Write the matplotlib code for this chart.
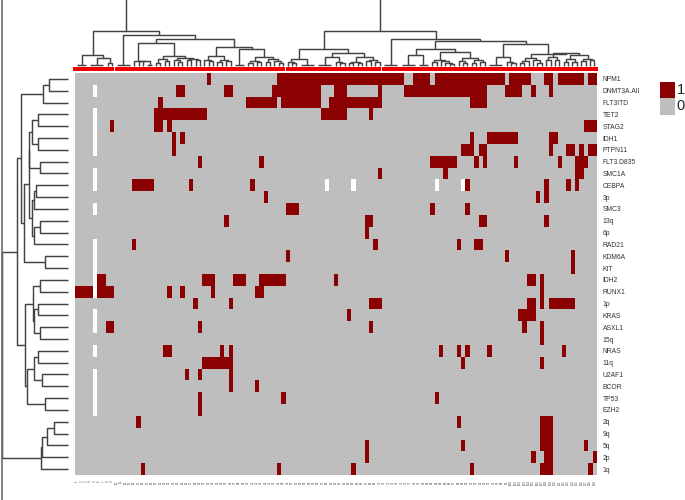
#!/usr/bin/env python3
# -*- coding: utf-8 -*-
"""Binary mutation heatmap (samples x genes) with dendrograms and cluster bars."""
import numpy as np
import matplotlib
matplotlib.use("Agg")
import matplotlib.pyplot as plt
from matplotlib.collections import LineCollection
from matplotlib.colors import ListedColormap
from matplotlib.lines import Line2D

plt.rcParams['font.family'] = ['Liberation Sans', 'DejaVu Sans']

FIG_W, FIG_H = 685, 500
N_SAMPLES = 119

row_labels = ["NPM1", "DNMT3A.All", "FLT3ITD", "TET2", "STAG2", "IDH1", "PTPN11", "FLT3.D835",
              "SMC1A", "CEBPA", "3p", "SMC3", "13q", "6p", "RAD21", "KDM6A", "KIT", "IDH2",
              "RUNX1", "1p", "KRAS", "ASXL1", "15q", "NRAS", "11q", "U2AF1", "BCOR", "TP53",
              "EZH2", "2q", "9q", "5q", "2p", "1q"]

# altered samples per row, as (first, stop) runs in dendrogram order
NPM1 = [(30, 31), (46, 75), (77, 81), (82, 98), (99, 104), (107, 109), (110, 116), (117, 119)]
DNMT3A_All = [(23, 25), (34, 36), (45, 56), (59, 62), (69, 70), (75, 94), (98, 102), (104, 105), (108, 109)]
FLT3ITD = [(19, 20), (39, 46), (47, 56), (58, 70), (90, 94)]
TET2 = [(18, 30), (56, 62), (67, 68)]
STAG2 = [(8, 9), (18, 20), (21, 22), (116, 119)]
IDH1 = [(22, 23), (24, 25), (90, 91), (94, 101), (108, 110)]
PTPN11 = [(22, 23), (88, 91), (92, 94), (108, 109), (112, 114), (115, 116), (117, 119)]
FLT3_D835 = [(28, 29), (42, 43), (81, 87), (91, 92), (93, 94), (100, 101), (110, 111), (114, 117)]
SMC1A = [(69, 70), (84, 85), (114, 116)]
CEBPA = [(13, 18), (26, 27), (40, 41), (89, 90), (107, 108), (112, 113), (114, 115)]
p3 = [(43, 44), (105, 106), (107, 108)]
SMC3 = [(48, 51), (81, 82), (89, 90)]
q13 = [(34, 35), (66, 68), (92, 94), (107, 108)]
p6 = [(66, 67)]
RAD21 = [(13, 14), (68, 69), (87, 88), (91, 93)]
KDM6A = [(48, 49), (98, 99), (113, 114)]
KIT = [(113, 114)]
IDH2 = [(5, 7), (29, 32), (36, 39), (42, 48), (59, 60), (103, 105), (106, 107)]
RUNX1 = [(0, 4), (5, 9), (21, 22), (24, 25), (31, 32), (41, 43), (106, 107)]
p1 = [(27, 28), (35, 36), (67, 70), (103, 105), (106, 107), (108, 114)]
KRAS = [(62, 63), (101, 105)]
ASXL1 = [(7, 9), (28, 29), (67, 68), (102, 103), (106, 107)]
q15 = [(106, 107)]
NRAS = [(20, 22), (33, 34), (35, 36), (83, 84), (87, 88), (89, 90), (94, 95), (111, 112)]
q11 = [(29, 36), (88, 89), (106, 107)]
U2AF1 = [(25, 26), (28, 29), (35, 36)]
BCOR = [(35, 36), (41, 42)]
TP53 = [(28, 29), (47, 48), (82, 83)]
EZH2 = [(28, 29)]
q2 = [(14, 15), (87, 88), (106, 109)]
q9 = [(106, 109)]
q5 = [(66, 67), (88, 89), (106, 109), (116, 117)]
p2 = [(66, 67), (104, 105), (107, 109), (118, 119)]
q1 = [(15, 16), (46, 47), (63, 64), (90, 91), (106, 109), (117, 118)]

row_runs = [NPM1, DNMT3A_All, FLT3ITD, TET2, STAG2, IDH1, PTPN11, FLT3_D835, SMC1A, CEBPA, p3, SMC3,
            q13, p6, RAD21, KDM6A, KIT, IDH2, RUNX1, p1, KRAS, ASXL1, q15, NRAS, q11, U2AF1, BCOR,
            TP53, EZH2, q2, q9, q5, p2, q1]

# cells with no value, drawn white
missing_sample = 4
missing_sample_rows = [1, 3, 4, 5, 6, 8, 9, 11, 14, 15, 16, 17, 18, 20, 21, 23, 25, 26, 27, 28]
cebpa_missing = [57, 63, 82, 88]

# sample names are too small to read in the source
sample_labels = [str(i) for i in range(1, N_SAMPLES + 1)]

cluster_sizes = [9, 39, 22, 49]

# trees: (height, child, child), an int is that many leaves joined at almost no height
cluster_1 = (10.3, 3, (7.7, 4, (3, 1, 1)))
cluster_2 = (31, 4, (27,
                     (22.7, (5, 1, (5, 1, (5, 1, 2))),
                      (9.7, (7, (3, 1, 1), (5, 1, 1)),
                       (8, (6, 1, (4, 1, 1)), (7, (6, 1, 1), (6, 1, 1))))),
                     (18.7, (9.7, (5.5, 1, (5, 1, 1)), (6, (4, 1, 1), (5, 1, 1))),
                      (16.3, 3, (9, (5, (3, 1, 1), (4, 1, 1)), (7, (4, 1, 1), (5, 1, (3, 1, 1))))))))
cluster_3 = (16.3, (7, (4, 1, (3, 1, 1)), 4),
             (13, (8.7, 4, (4, 1, (3, 1, 1))),
              (9, (4, (3, 1, 1), (3, 1, 1)), (6, (5, 1, 1), (4, 1, 1)))))
cluster_4 = (27, 4, (24.3,
                     (16.3, (10.5, 4, 3),
                      (13.7, (6, (4, 1, 1), (5, 1, (3, 1, (2, 1, 1)))),
                       (8, (5, 1, (3, 1, 1)), (6, (3, 1, 1), (4, 1, 1))))),
                     (22, (8.7, 4, (4, 1, (3, 1, 1))),
                      (12, (8, (5, (3, 1, 1), 1), (6, 1, (3, 1, 1))),
                       (12.5, (9, (6, 1, 1), (6, 1, 1)),
                        (11, (7, (4, 1, 1), (4, 1, 1)), (7, (5, 1, 1), (6, 1, 1))))))))
top_tree = (70, (35, cluster_1, cluster_2), (34.5, cluster_3, cluster_4))

left_tree = (66.3,
             (50.7,
              (47.3,
               (24.7, (19, 1, 1), 1),
               (44,
                (39,
                 (38.7, (35.7, (29.7, 1, 1), (29.7, 1, 1)), (27.7, 1, 1)),
                 (35.7, (33.7, (31.7, 1, 1), 1), (33.7, (28.3, 1, 1), 1))),
                (23, 1, 1))),
              (43.3,
               (34.7, (27.7, 1, 1), (33.7, (29.7, 1, 1), (28.3, 1, 1))),
               (40.7, (34.3, (29.7, 1, 1), (25.7, 1, 1)), (23, 1, 1)))),
             (27, (26.3, (20.7, (14, 1, 1), 1), 1), 1))

DARK_RED = "#8B0000"
GRID_GRAY = "#BEBEBE"
LINE_COLOR = "#444444"
TEXT_COLOR = "#333333"
FLAT_H = 0.5


def axes_px(fig, left, top, right, bottom):
    ax = fig.add_axes([left / FIG_W, 1 - bottom / FIG_H, (right - left) / FIG_W, (bottom - top) / FIG_H])
    return ax


def walk(node, start, segs):
    """Collect segments in (position, height); returns position, height, next leaf."""
    if isinstance(node, int):
        first = start + 0.5
        if node == 1:
            return first, 0.0, start + 1
        last = start + node - 0.5
        segs.append([(first, FLAT_H), (last, FLAT_H)])
        return (first + last) / 2, FLAT_H, start + node
    h, a, b = node
    pa, ha, nxt = walk(a, start, segs)
    pb, hb, nxt = walk(b, nxt, segs)
    segs.append([(pa, ha), (pa, h), (pb, h), (pb, hb)])
    return (pa + pb) / 2, h, nxt


def build_matrix():
    mat = np.zeros((len(row_labels), N_SAMPLES))
    for r, runs in enumerate(row_runs):
        for a, b in runs:
            mat[r, a:b] = 1
    for r in missing_sample_rows:
        mat[r, missing_sample] = np.nan
    for c in cebpa_missing:
        mat[row_labels.index("CEBPA"), c] = np.nan
    return mat


def main():
    fig = plt.figure(figsize=(FIG_W / 100, FIG_H / 100), dpi=100)

    hm_left, hm_right, hm_top, hm_bottom = 75, 596.6, 73, 475
    cmap = ListedColormap([GRID_GRAY, DARK_RED])
    cmap.set_bad("white")

    ax = axes_px(fig, hm_left, hm_top, hm_right, hm_bottom)
    ax.imshow(np.ma.masked_invalid(build_matrix()), aspect="auto", cmap=cmap, vmin=0, vmax=1,
              interpolation="nearest", extent=(0, N_SAMPLES, len(row_labels), 0))
    ax.set_yticks(np.arange(len(row_labels)) + 0.5, row_labels)
    ax.yaxis.tick_right()
    ax.tick_params(axis="y", length=0, pad=4.4, labelsize=4.9, labelcolor=TEXT_COLOR)
    ax.set_xticks(np.arange(N_SAMPLES) + 0.5, sample_labels, rotation=90)
    ax.tick_params(axis="x", length=0, pad=3.8, labelsize=2.1, labelcolor="#444444")
    for s in ax.spines.values():
        s.set_visible(False)

    # column dendrogram, root runs off the top of the figure
    top = axes_px(fig, hm_left, 0, hm_right, 65.5)
    segs = []
    walk(top_tree, 0, segs)
    top.add_collection(LineCollection(segs, colors=LINE_COLOR, linewidths=1.05, clip_on=False))
    top.set_xlim(0, N_SAMPLES)
    top.set_ylim(0, 65.5)
    top.axis("off")

    # cluster bars between dendrogram and heatmap
    bars = axes_px(fig, hm_left, 67, hm_right, 70.7)
    edges = np.cumsum([0] + cluster_sizes)
    for i, (a, b) in enumerate(zip(edges[:-1], edges[1:])):
        lo = a + 0.15 if i else a - 0.5
        hi = b - 0.15 if i < len(cluster_sizes) - 1 else b + 0.4
        bars.fill_between([lo, hi], 0, 1, color="#F40000", lw=0, clip_on=False)
    bars.set_xlim(0, N_SAMPLES)
    bars.set_ylim(0, 1)
    bars.axis("off")

    # row dendrogram
    left = axes_px(fig, 0, hm_top, 68, hm_bottom)
    segs = []
    walk(left_tree, 0, segs)
    segs = [[(h, p) for p, h in seg] for seg in segs]
    left.add_collection(LineCollection(segs, colors=LINE_COLOR, linewidths=1.05, clip_on=False))
    left.set_xlim(68, 0)
    left.set_ylim(len(row_labels), 0)
    left.axis("off")

    # stray rule down the left edge of the source image
    fig.add_artist(Line2D([1.5 / FIG_W, 1.5 / FIG_W], [0, 1], color="#6e6e6e", lw=1.2))

    # legend
    lg = axes_px(fig, 660, 82.3, 674, 115)
    lg.imshow([[1], [0]], aspect="auto", cmap=cmap, vmin=0, vmax=1, extent=(0, 1, 0, 2))
    lg.axis("off")
    fig.text(676.5 / FIG_W, 1 - 90.5 / FIG_H, "1", fontsize=10.5, color="#222222", va="center")
    fig.text(676.5 / FIG_W, 1 - 106.5 / FIG_H, "0", fontsize=10.5, color="#222222", va="center")

    fig.savefig("out.png", dpi=100)


if __name__ == "__main__":
    main()
